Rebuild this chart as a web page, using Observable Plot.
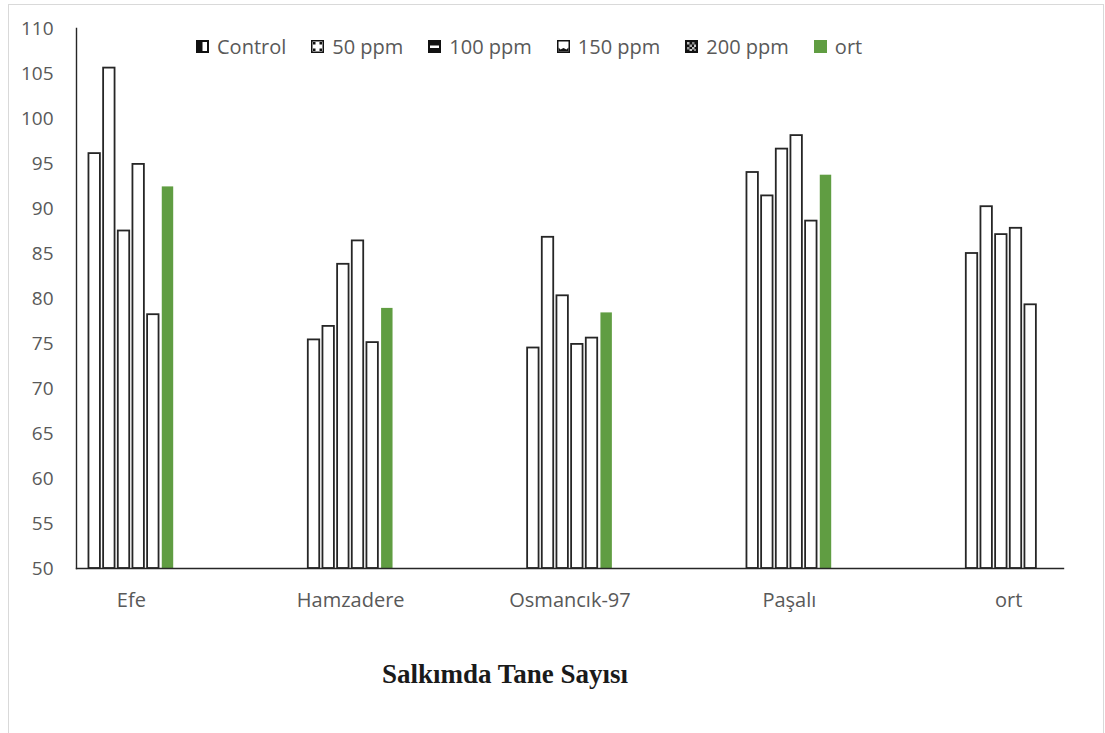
<!DOCTYPE html>
<html>
<head>
<meta charset="utf-8">
<script src="https://cdn.jsdelivr.net/npm/d3@7"></script>
<script src="https://cdn.jsdelivr.net/npm/@observablehq/plot@0.6"></script>
<style>
  body { margin: 0; background: #fff; }
  #wrap { position: relative; width: 1105px; height: 733px; overflow: hidden; background: #fff; }
  #border { position: absolute; left: 8px; top: 4px; width: 1094px; height: 740px; border: 1px solid #d9d9d9; }
  #chart { position: absolute; left: 0; top: 0; }
  #legend { position: absolute; left: 196px; top: 33px; display: flex; align-items: center;
            font-family: "Open Sans", sans-serif; font-size: 20px; color: #595959; white-space: nowrap; }
  .item { display: flex; align-items: center; margin-right: 25px; }
  .item svg { margin-right: 8px; }
  #title { position: absolute; left: 0; width: 1010px; top: 659px; text-align: center;
           font-family: "Liberation Serif", "Times New Roman", serif; font-weight: bold; font-size: 27px; color: #1a1a1a; }
</style>
</head>
<body>
<div id="wrap">
  <div id="border"></div>
  <div id="chart"></div>
  <div id="legend"></div>
  <div id="title">Salkımda Tane Sayısı</div>
</div>
<script>
// Varieties (groups) and treatments (bars within each group)
const categories = ["Efe", "Hamzadere", "Osmancık-97", "Paşalı", "ort"];
const series = ["Control", "50 ppm", "100 ppm", "150 ppm", "200 ppm", "ort"];

// Grains per cluster for each treatment, in the order of categories
const control = [96.1, 75.4, 74.5, 94.0, 85.0];
const ppm50   = [105.6, 76.9, 86.8, 91.4, 90.2];
const ppm100  = [87.5, 83.8, 80.3, 96.6, 87.1];
const ppm150  = [94.9, 86.4, 74.9, 98.1, 87.8];
const ppm200  = [78.2, 75.1, 75.6, 88.6, 79.3];
const ortVals = [92.4, 78.9, 78.4, 93.7, null];

const yTicks = [50, 55, 60, 65, 70, 75, 80, 85, 90, 95, 100, 105, 110];

const green = "#609d42";
const ink = "#262626";

const columns = [control, ppm50, ppm100, ppm150, ppm200, ortVals];
const rows = categories.flatMap((c, i) =>
  series.map((s, j) => ({category: c, series: s, value: columns[j][i]}))
).filter(d => d.value != null);

const outlined = rows.filter(d => d.series !== "ort");
const filled = rows.filter(d => d.series === "ort");

const chart = Plot.plot({
  width: 1105,
  height: 620,
  marginLeft: 76,
  marginRight: 42,
  marginTop: 28,
  marginBottom: 52,
  style: {fontFamily: "Open Sans, sans-serif", fontSize: "20px", color: "#595959", background: "transparent"},
  fx: {domain: categories, paddingInner: 0.5, paddingOuter: 0, round: false, label: null},
  x: {domain: series, paddingInner: 0.22, paddingOuter: 0.85, round: false, axis: null},
  y: {domain: [50, 110], label: null},
  marks: [
    Plot.barY(outlined, {fx: "category", x: "series", y1: 50, y2: "value", fill: "white", stroke: ink, strokeWidth: 1.8}),
    Plot.barY(filled, {fx: "category", x: "series", y1: 50, y2: "value", fill: green}),
    // axis lines along the left and bottom of the whole plot area
    Plot.frame({anchor: "left", facet: "super", stroke: ink, strokeWidth: 1.4}),
    Plot.frame({anchor: "bottom", facet: "super", stroke: ink, strokeWidth: 1.4}),
    Plot.axisY({ticks: yTicks, tickSize: 0, tickPadding: 23, fontSize: 19, label: null}),
    Plot.axisFx({anchor: "bottom", tickSize: 0, tickPadding: 24, fontSize: 20, label: null})
  ]
});
document.getElementById("chart").appendChild(chart);

// Legend swatches drawn as small patterned squares
const swatches = {
  "Control": `<rect x="0" y="0" width="13" height="13" fill="#111"/><rect x="6.5" y="2" width="4.5" height="9" fill="#fff"/>`,
  "50 ppm": `<rect x="0.75" y="0.75" width="11.5" height="11.5" fill="#fff" stroke="#111" stroke-width="1.5"/>
             <rect x="2" y="2" width="2.5" height="2.5" fill="#111"/><rect x="8.5" y="2" width="2.5" height="2.5" fill="#111"/>
             <rect x="2" y="8.5" width="2.5" height="2.5" fill="#111"/><rect x="8.5" y="8.5" width="2.5" height="2.5" fill="#111"/>`,
  "100 ppm": `<rect x="0" y="0" width="13" height="13" fill="#111"/><rect x="2" y="5.5" width="9" height="2.5" fill="#fff"/>`,
  "150 ppm": `<rect x="0.75" y="0.75" width="11.5" height="11.5" fill="#fff" stroke="#111" stroke-width="1.5"/>
              <path d="M1.5 11.5 L1.5 7.5 L3.5 9.5 L6.5 8 L9.5 9.5 L11.5 7.5 L11.5 11.5 Z" fill="#111"/>`,
  "200 ppm": `<rect x="0" y="0" width="13" height="13" fill="#111"/>
              <rect x="2" y="2" width="2.5" height="2.5" fill="#bbb"/><rect x="7" y="2" width="2.5" height="2.5" fill="#888"/>
              <rect x="4.5" y="4.5" width="2.5" height="2.5" fill="#aaa"/><rect x="9" y="4.5" width="2" height="2.5" fill="#ccc"/>
              <rect x="2" y="7" width="2.5" height="2.5" fill="#999"/><rect x="7" y="7" width="2.5" height="2.5" fill="#bbb"/>
              <rect x="4.5" y="9" width="2.5" height="2" fill="#ccc"/><rect x="9" y="9" width="2" height="2" fill="#888"/>`,
  "ort": `<rect x="0" y="0" width="13" height="13" fill="${green}"/>`
};
const legend = document.getElementById("legend");
for (const s of series) {
  const item = document.createElement("div");
  item.className = "item";
  item.innerHTML = `<svg width="13" height="13" viewBox="0 0 13 13">${swatches[s]}</svg><span>${s}</span>`;
  legend.appendChild(item);
}
</script>
</body>
</html>
